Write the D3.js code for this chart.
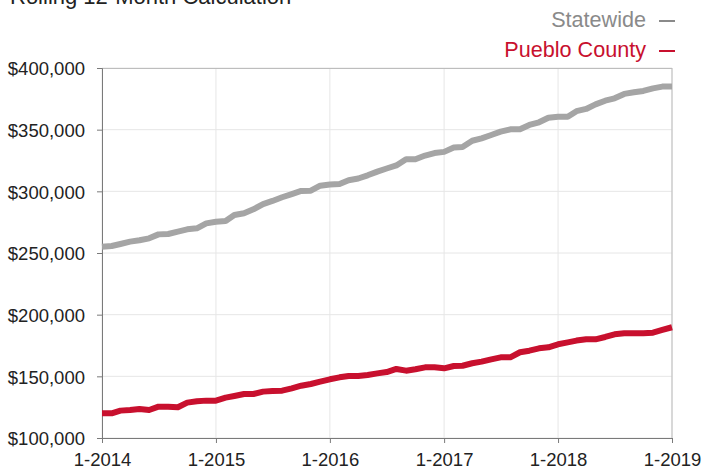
<!DOCTYPE html>
<html>
<head>
<meta charset="utf-8">
<script src="https://cdn.jsdelivr.net/npm/d3@7"></script>
<style>
  body { margin: 0; background: #fff; }
  svg { display: block; font-family: "Helvetica Neue", Helvetica, Arial, "Liberation Sans", sans-serif; }
  .axis path, .axis line { stroke: #7a7a7a; }
  .grid line { stroke: #e6e6e6; }
</style>
</head>
<body>
<div class="chart"></div>
<script>
// Data (thousands of dollars), monthly from 1-2014 to 1-2019.
const startMonth = new Date(2014, 0, 1);
const statewide = [
  255.1, 255.7, 257.3, 259.2, 260.3, 261.9, 265.1, 265.4, 267.3, 269.2, 270.0, 274.0,
  275.4, 275.9, 280.8, 282.2, 285.4, 289.7, 292.2, 295.2, 297.8, 300.3, 300.5, 304.6,
  305.5, 306.0, 309.0, 310.4, 313.0, 316.0, 318.5, 321.0, 326.0, 326.0, 329.0, 331.0,
  332.0, 335.5, 336.0, 341.0, 343.0, 345.7, 348.4, 350.3, 350.3, 353.8, 356.0, 359.7,
  360.5, 360.5, 365.0, 366.8, 370.5, 373.5, 375.4, 379.0, 380.3, 381.4, 383.5, 384.9,
  385.0
];
const pueblo = [
  120.0, 120.0, 122.2, 122.7, 123.5, 122.7, 125.4, 125.4, 124.9, 128.7, 129.8, 130.3,
  130.3, 132.7, 134.1, 135.7, 135.7, 137.6, 138.1, 138.4, 140.3, 142.4, 143.8, 145.7,
  147.6, 149.2, 150.3, 150.3, 151.1, 152.4, 153.5, 156.0, 154.6, 155.7, 157.3, 157.3,
  156.5, 158.4, 158.6, 160.6, 161.9, 163.8, 165.4, 165.4, 169.5, 170.8, 172.7, 173.5,
  176.0, 177.5, 179.0, 180.0, 180.0, 181.9, 184.1, 184.9, 184.9, 184.9, 185.4, 187.6,
  189.8
];
const yTicks = [100000, 150000, 200000, 250000, 300000, 350000, 400000];
const seriesNames = ["Statewide", "Pueblo County"];
const seriesColors = ["#a5a5a5", "#c8102e"];
const legendColors = ["#8a8a8a", "#c8102e"];
const title = "Rolling 12-Month Calculation";

// Margin convention.
const totalW = 704, totalH = 470;
const margin = { top: 68, right: 32, bottom: 32, left: 102 };
const width = totalW - margin.left - margin.right;
const height = totalH - margin.top - margin.bottom;

const svg = d3.select(".chart").append("svg")
  .attr("width", totalW)
  .attr("height", totalH);

// Title sits partly above the top edge, as in the original crop.
svg.append("text")
  .attr("x", 10)
  .attr("y", 4)
  .attr("font-size", 22)
  .attr("fill", "#222")
  .text(title);

const g = svg.append("g")
  .attr("transform", `translate(${margin.left}, ${margin.top})`);

// Scales.
const dateOf = (i) => d3.timeMonth.offset(startMonth, i);
const xScale = d3.scaleTime()
  .domain([startMonth, dateOf(statewide.length - 1)])
  .range([0, width]);
const yScale = d3.scaleLinear().domain([100000, 400000]).range([height, 0]);
const xTicks = d3.timeYear.range(startMonth, d3.timeMonth.offset(dateOf(statewide.length - 1), 1));

// Grid.
const grid = g.append("g").attr("class", "grid");
grid.selectAll(".gy").data(yTicks).enter().append("line")
  .attr("x1", 0).attr("x2", width)
  .attr("y1", (d) => yScale(d)).attr("y2", (d) => yScale(d));
grid.selectAll(".gx").data(xTicks).enter().append("line")
  .attr("x1", (d) => xScale(d)).attr("x2", (d) => xScale(d))
  .attr("y1", 0).attr("y2", height);

// Frame (top and right).
g.append("line").attr("x1", 0).attr("x2", width).attr("y1", 0.5).attr("y2", 0.5)
  .attr("stroke", "#bdbdbd");
g.append("line").attr("x1", width).attr("x2", width).attr("y1", 0).attr("y2", height)
  .attr("stroke", "#bdbdbd");

// Axes.
const yAxis = d3.axisLeft(yScale)
  .tickValues(yTicks)
  .tickSize(5)
  .tickPadding(12)
  .tickFormat((d) => "$" + d3.format(",")(d));
const yAxisDraw = g.append("g").attr("class", "y axis").call(yAxis);
yAxisDraw.selectAll("text").attr("font-size", 18.5).attr("fill", "#222").attr("dy", "0.36em");

const xAxis = d3.axisBottom(xScale)
  .tickValues(xTicks)
  .tickSize(5)
  .tickPadding(10)
  .tickFormat(d3.timeFormat("%-m-%Y"));
const xAxisDraw = g.append("g").attr("class", "x axis")
  .attr("transform", `translate(0, ${height})`)
  .call(xAxis);
xAxisDraw.selectAll("text").attr("font-size", 18.5).attr("fill", "#222");
xAxisDraw.select(".domain").attr("d", `M0,0.5H${width}`);

// Lines.
const line = d3.line()
  .x((d, i) => xScale(dateOf(i)))
  .y((d) => yScale(d * 1000));

[statewide, pueblo].forEach((s, k) => {
  g.append("path")
    .datum(s)
    .attr("fill", "none")
    .attr("stroke", seriesColors[k])
    .attr("stroke-width", 6)
    .attr("stroke-linejoin", "round")
    .attr("d", line);
});

// Legend.
const legend = svg.append("g").attr("class", "legend");
seriesNames.forEach((name, k) => {
  const y = 27 + k * 30;
  legend.append("text")
    .attr("x", 646)
    .attr("y", y)
    .attr("text-anchor", "end")
    .attr("font-size", 21.6)
    .attr("fill", legendColors[k])
    .text(name);
  legend.append("line")
    .attr("x1", 659).attr("x2", 675)
    .attr("y1", y - 6).attr("y2", y - 6)
    .attr("stroke", legendColors[k])
    .attr("stroke-width", 2);
});
</script>
</body>
</html>
